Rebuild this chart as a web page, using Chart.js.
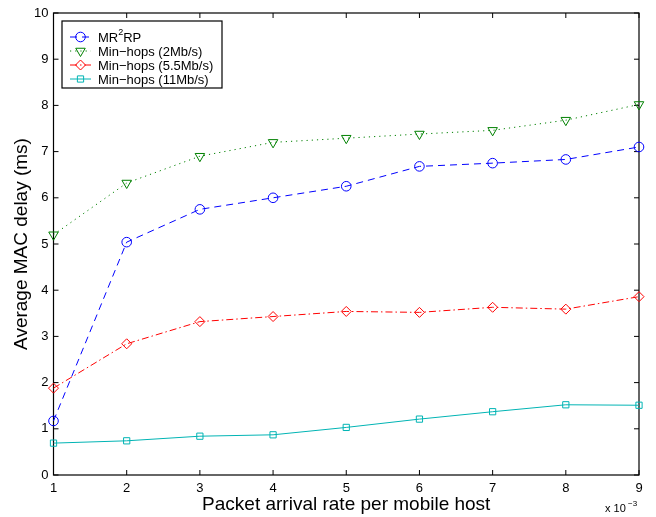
<!DOCTYPE html>
<html>
<head>
<meta charset="utf-8">
<script src="https://cdn.jsdelivr.net/npm/chart.js@4.4.1/dist/chart.umd.min.js"></script>
<style>
  html, body { margin: 0; padding: 0; background: #fff; }
  #wrap { width: 656px; height: 517px; }
</style>
</head>
<body>
<div id="wrap"><canvas id="macChart" width="656" height="517"></canvas></div>
<script>
// Average MAC delay vs packet arrival rate (x 10^-3)

const rates = [1, 2, 3, 4, 5, 6, 7, 8, 9];
const mr2rp = [1.17, 5.04, 5.75, 6.0, 6.25, 6.68, 6.75, 6.83, 7.1];
const hops2 = [5.2, 6.32, 6.9, 7.2, 7.29, 7.38, 7.46, 7.68, 8.02];
const hops55 = [1.88, 2.84, 3.32, 3.43, 3.54, 3.52, 3.63, 3.59, 3.86];
const hops11 = [0.69, 0.74, 0.84, 0.87, 1.03, 1.21, 1.37, 1.52, 1.51];
const seriesNames = ['MR2RP', 'Min\u2212hops (2Mb/s)', 'Min\u2212hops (5.5Mb/s)', 'Min\u2212hops (11Mb/s)'];

const FONT = '"Liberation Sans", Arial, Helvetica, sans-serif';

function toPoints(values) {
    return rates.map((r, i) => ({ x: r, y: values[i] }));
}

function makeDataset(label, values, color, dash, style, radius, rotation) {
    return {
        label: label,
        data: toPoints(values),
        borderColor: color,
        backgroundColor: 'rgba(0,0,0,0)',
        borderWidth: 1,
        borderDash: dash,
        pointStyle: style,
        pointRadius: radius,
        pointRotation: rotation || 0,
        pointBorderColor: color,
        pointBorderWidth: 1,
        pointBackgroundColor: 'rgba(0,0,0,0)',
        tension: 0,
        fill: false,
        clip: false
    };
}

// box around the plot with inward ticks on all four sides
const boxPlugin = {
    id: 'boxPlugin',
    beforeDatasetsDraw(chart) {
        const { ctx, chartArea: a, scales } = chart;
        ctx.save();
        ctx.strokeStyle = '#000';
        ctx.lineWidth = 1.2;
        ctx.strokeRect(a.left, a.top, a.width, a.height);
        ctx.lineWidth = 1;
        ctx.beginPath();
        scales.x.ticks.forEach(t => {
            const px = scales.x.getPixelForValue(t.value);
            ctx.moveTo(px, a.bottom); ctx.lineTo(px, a.bottom - 5);
            ctx.moveTo(px, a.top); ctx.lineTo(px, a.top + 5);
        });
        scales.y.ticks.forEach(t => {
            const py = scales.y.getPixelForValue(t.value);
            ctx.moveTo(a.left, py); ctx.lineTo(a.left + 5, py);
            ctx.moveTo(a.right, py); ctx.lineTo(a.right - 5, py);
        });
        ctx.stroke();
        ctx.restore();
    },
    afterDraw(chart) {
        const { ctx, chartArea: a } = chart;
        ctx.save();
        // exponent label under the x axis
        ctx.fillStyle = '#000';
        ctx.textBaseline = 'alphabetic';
        ctx.font = '11px ' + FONT;
        ctx.fillText('x 10', a.right - 34, a.bottom + 37);
        ctx.font = '8px ' + FONT;
        ctx.fillText('\u22123', a.right - 11, a.bottom + 31);

        // legend box
        const lx = 62, ly = 21, lw = 160, lh = 67;
        ctx.fillStyle = '#fff';
        ctx.fillRect(lx, ly, lw, lh);
        ctx.strokeStyle = '#000';
        ctx.lineWidth = 1.2;
        ctx.strokeRect(lx, ly, lw, lh);

        chart.data.datasets.forEach((ds, i) => {
            const yy = 37 + i * 14;
            ctx.strokeStyle = ds.borderColor;
            ctx.lineWidth = 1;
            ctx.setLineDash(ds.borderDash);
            ctx.beginPath();
            ctx.moveTo(70, yy); ctx.lineTo(91, yy);
            ctx.stroke();
            ctx.setLineDash([]);
            ctx.fillStyle = 'rgba(0,0,0,0)';
            ctx.strokeStyle = ds.borderColor;
            Chart.helpers.drawPoint(ctx, {
                pointStyle: ds.pointStyle,
                rotation: ds.pointRotation,
                radius: ds.pointRadius,
                borderWidth: 1
            }, 80.5, yy);
            ctx.fillStyle = '#000';
            ctx.textBaseline = 'middle';
            ctx.font = '13px ' + FONT;
            let tx = 98;
            if (i === 0) {
                ctx.fillText('MR', tx, yy + 1);
                tx += ctx.measureText('MR').width;
                ctx.font = '9px ' + FONT;
                ctx.fillText('2', tx, yy - 4);
                tx += ctx.measureText('2').width;
                ctx.font = '13px ' + FONT;
                ctx.fillText('RP', tx, yy + 1);
            } else {
                ctx.fillText(ds.label, tx, yy + 1);
            }
        });
        ctx.restore();
    }
};

const ctx = document.getElementById('macChart');

new Chart(ctx.getContext('2d'), {
    type: 'line',
    data: {
        datasets: [
            makeDataset(seriesNames[0], mr2rp, '#0000ff', [7, 5], 'circle', 4.8),
            makeDataset(seriesNames[1], hops2, '#008000', [1.2, 4], 'triangle', 5.5, 180),
            makeDataset(seriesNames[2], hops55, '#ff0000', [7, 3, 1.5, 3], 'rectRot', 5),
            makeDataset(seriesNames[3], hops11, '#00b4b4', [], 'rect', 4.4)
        ]
    },
    options: {
        responsive: false,
        animation: false,
        layout: {
            padding: { top: 13, right: 17, left: 0, bottom: 0 }
        },
        plugins: {
            legend: { display: false },
            tooltip: { enabled: false }
        },
        scales: {
            x: {
                type: 'linear',
                min: 1,
                max: 9,
                grid: { display: false, drawTicks: false },
                border: { display: false },
                ticks: {
                    stepSize: 1,
                    padding: 6,
                    color: '#000',
                    font: { family: FONT, size: 13 }
                },
                title: {
                    display: true,
                    text: 'Packet arrival rate per mobile host',
                    color: '#000',
                    font: { family: FONT, size: 19 },
                    padding: { top: 0, bottom: 1 }
                },
                afterFit(scale) { scale.height = 42; }
            },
            y: {
                min: 0,
                max: 10,
                grid: { display: false, drawTicks: false },
                border: { display: false },
                ticks: {
                    stepSize: 1,
                    padding: 5,
                    color: '#000',
                    font: { family: FONT, size: 13 }
                },
                title: {
                    display: true,
                    text: 'Average MAC delay (ms)',
                    color: '#000',
                    font: { family: FONT, size: 19 },
                    padding: { top: 10, bottom: 0 }
                },
                afterFit(scale) { scale.width = 53.5; }
            }
        }
    },
    plugins: [boxPlugin]
});
</script>
</body>
</html>
